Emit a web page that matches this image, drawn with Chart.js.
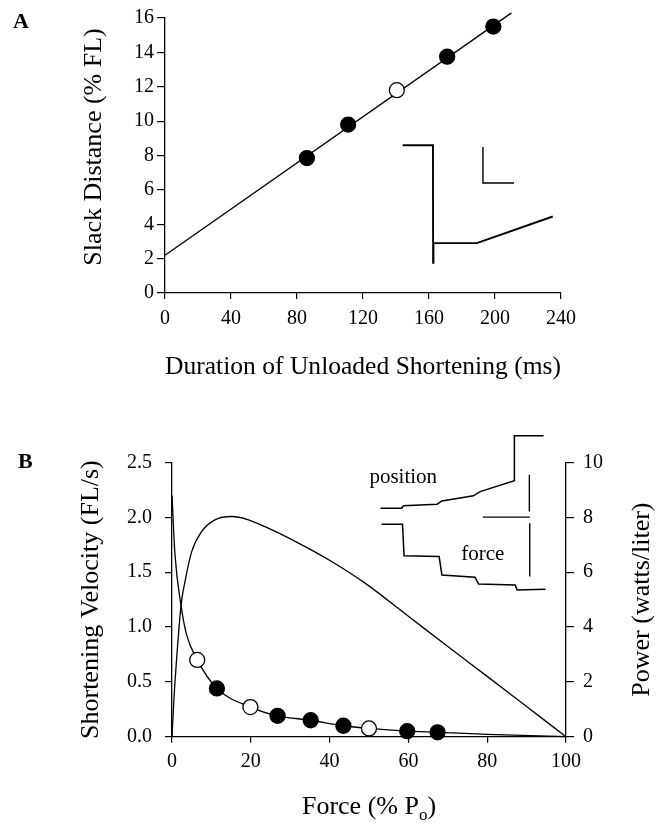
<!DOCTYPE html>
<html>
<head>
<meta charset="utf-8">
<script src="https://cdn.jsdelivr.net/npm/chart.js@4.4.1/dist/chart.umd.min.js"></script>
<style>
  body { margin: 0; background: #fff; }
  #wrap { position: relative; width: 665px; height: 829px; font-family: "Liberation Serif", serif; }
  .panel { position: absolute; left: 0; width: 665px; }
  .letter { position: absolute; font-weight: bold; font-size: 22px; line-height: 22px; color: #000; }
</style>
</head>
<body>
<div id="wrap">
  <div class="panel" style="top:0;height:400px"><canvas id="chartA"></canvas></div>
  <div class="panel" style="top:400px;height:429px"><canvas id="chartB"></canvas></div>
  <div class="letter" style="left:13px;top:10px">A</div>
  <div class="letter" style="left:18px;top:450px">B</div>
</div>
<script>
// ---- Panel A: slack distance vs duration of unloaded shortening ----
var fitDuration = [0, 210];
var fitSlack = [2.2, 16.3];
var filledDuration = [86, 111, 171, 199];
var filledSlack = [7.85, 9.8, 13.75, 15.5];
var openDuration = [140.5];
var openSlack = [11.8];
// inset record (drawn in the panel's own units)
var traceADuration = [144, 162.4, 162.5, 162.7, 189, 235];
var traceASlack = [8.6, 8.6, 1.75, 2.9, 2.9, 4.45];
var barADuration = [192.7, 192.7, 211.5];
var barASlack = [8.5, 6.4, 6.4];

// ---- Panel B: force-velocity and power ----
var curveForce = [0, 0.76, 2.28, 3.7, 6.4, 11.4, 19.9, 26.8, 35.2, 43.5, 50, 59.7, 67.4, 80, 100];
var curveVelocity = [2.2, 1.66, 1.2, 0.93, 0.7, 0.44, 0.27, 0.19, 0.15, 0.1, 0.075, 0.05, 0.04, 0.022, 0];
var powerForce = [0, 0.5, 1.1, 2.3, 3.3, 5, 7.5, 10.9, 15.2, 19.4, 23.6, 32.1, 40.5, 49, 60, 70, 80, 90, 100];
var powerWatts = [0, 1.4, 2.7, 4.8, 5.66, 6.75, 7.48, 7.91, 8.03, 7.91, 7.66, 7.06, 6.39, 5.6, 4.39, 3.29, 2.2, 1.1, 0];
var filledForce = [11.4, 26.8, 35.2, 43.5, 59.7, 67.4];
var filledVelocity = [0.44, 0.19, 0.15, 0.1, 0.05, 0.04];
var openForce = [6.4, 19.9, 50];
var openVelocity = [0.7, 0.27, 0.075];
// inset records
var posForce = [52.9, 58.3, 58.7, 67.3, 68.5, 76.5, 78.2, 86.9, 86.9, 94.3];
var posLevel = [2.084, 2.084, 2.105, 2.12, 2.15, 2.196, 2.235, 2.333, 2.744, 2.744];
var forceTraceX = [53.2, 58.5, 58.9, 67.8, 68.5, 76.9, 77.8, 87.1, 87.6, 94.8];
var forceTraceY = [1.938, 1.938, 1.649, 1.642, 1.475, 1.454, 1.393, 1.384, 1.338, 1.345];
var barB1X = [90.7, 90.7], barB1Y = [2.388, 2.053];
var barB2X = [78.9, 90.8], barB2Y = [2.002, 2.002];
var barB3X = [90.8, 90.8], barB3Y = [1.947, 1.46];
var insetLabels = ['position', 'force'];
var insetLabelX = [58.7, 78.9];
var insetLabelY = [2.367, 1.664];

function pts(xs, ys) {
  return xs.map(function(x, i) { return { x: x, y: ys[i] }; });
}

var serif = '"Liberation Serif", "Times New Roman", serif';
Chart.defaults.font.family = serif;
Chart.defaults.color = '#000';

function lineSet(data, width, extra) {
  var d = {
    data: data, showLine: true, borderColor: '#000', borderWidth: width,
    pointRadius: 0, fill: false, clip: false, order: 1
  };
  for (var k in extra) d[k] = extra[k];
  return d;
}
function markerSet(data, fillColor) {
  return {
    data: data, showLine: false, pointRadius: 7.5, pointHoverRadius: 7.5,
    pointBackgroundColor: fillColor, pointBorderColor: '#000', pointBorderWidth: 1.3,
    clip: false, order: 0
  };
}
function axisStyle(tickLen) {
  return {
    grid: { drawOnChartArea: false, drawTicks: true, tickLength: tickLen, color: '#000', lineWidth: 1.2 },
    border: { display: true, color: '#000', width: 1.3 }
  };
}
function upText(ctx, text, x, y) {
  ctx.save();
  ctx.fillStyle = '#000';
  ctx.font = '26px ' + serif;
  ctx.textAlign = 'center';
  ctx.textBaseline = 'middle';
  ctx.translate(x, y);
  ctx.rotate(-Math.PI / 2);
  ctx.fillText(text, 0, 0);
  ctx.restore();
}

// ---------- chart A ----------
var titleA = {
  id: 'titleA',
  afterDraw: function(chart) { upText(chart.ctx, 'Slack Distance (% FL)', 94, 147); }
};

var xA = axisStyle(6);
xA.type = 'linear'; xA.min = 0; xA.max = 240;
xA.ticks = { stepSize: 40, padding: 8, font: { size: 20 }, color: '#000' };
xA.title = { display: true, text: 'Duration of Unloaded Shortening (ms)', font: { size: 26 }, color: '#000', padding: { top: 0, bottom: 17 } };
xA.afterFit = function(s) { s.height = 107; };

var yA = axisStyle(8);
yA.min = 0; yA.max = 16;
yA.ticks = { stepSize: 2, padding: 3, font: { size: 20 }, color: '#000' };
yA.afterFit = function(s) { s.width = 165; };

new Chart(document.getElementById('chartA'), {
  type: 'scatter',
  data: {
    datasets: [
      markerSet(pts(filledDuration, filledSlack), '#000'),
      markerSet(pts(openDuration, openSlack), '#fff'),
      lineSet(pts(fitDuration, fitSlack), 1.3),
      lineSet(pts(traceADuration, traceASlack), 1.9),
      lineSet(pts(barADuration, barASlack), 1.4)
    ]
  },
  options: {
    responsive: true, maintainAspectRatio: false, animation: false,
    layout: { padding: { top: 18, right: 104, left: 0, bottom: 0 }, autoPadding: false },
    plugins: { legend: { display: false }, tooltip: { enabled: false } },
    scales: { x: xA, y: yA }
  },
  plugins: [titleA]
});

// ---------- chart B ----------
var extraText = {
  id: 'extraText',
  afterDraw: function(chart) {
    var ctx = chart.ctx, a = chart.chartArea;
    var xs = chart.scales.x, ys = chart.scales.y;
    // right axis title, reading upward like the left one
    upText(ctx, 'Power (watts/liter)', 642, (a.top + a.bottom) / 2);
    ctx.save();
    ctx.fillStyle = '#000';
    // x title with subscript
    var head = 'Force (% P', sub = 'o', tail = ')';
    ctx.textAlign = 'left';
    ctx.textBaseline = 'alphabetic';
    ctx.font = '26px ' + serif;
    var w1 = ctx.measureText(head).width, w3 = ctx.measureText(tail).width;
    ctx.font = '17px ' + serif;
    var w2 = ctx.measureText(sub).width;
    var x0 = (a.left + a.right) / 2 - (w1 + w2 + w3) / 2, base = 414;
    ctx.font = '26px ' + serif;
    ctx.fillText(head, x0, base);
    ctx.fillText(tail, x0 + w1 + w2, base);
    ctx.font = '17px ' + serif;
    ctx.fillText(sub, x0 + w1, base + 6);
    // inset labels
    ctx.font = '21px ' + serif;
    ctx.textAlign = 'center';
    ctx.textBaseline = 'middle';
    insetLabels.forEach(function(t, i) {
      ctx.fillText(t, xs.getPixelForValue(insetLabelX[i]), ys.getPixelForValue(insetLabelY[i]));
    });
    ctx.restore();
  }
};

var xB = axisStyle(6);
xB.type = 'linear'; xB.min = 0; xB.max = 100;
xB.ticks = { stepSize: 20, padding: 7, font: { size: 20 }, color: '#000' };
xB.afterFit = function(s) { s.height = 92.3; };

var yB = axisStyle(7);
yB.min = 0; yB.max = 2.5;
yB.ticks = { stepSize: 0.5, padding: 13, font: { size: 20 }, color: '#000',
  callback: function(v) { return v.toFixed(1); } };
yB.title = { display: true, text: 'Shortening Velocity (FL/s)', font: { size: 26 }, color: '#000', padding: { top: 76, bottom: 0 } };
yB.afterFit = function(s) { s.width = 172; };

var y2B = axisStyle(8);
y2B.position = 'right'; y2B.min = 0; y2B.max = 10;
y2B.ticks = { stepSize: 2, padding: 9, font: { size: 20 }, color: '#000' };
y2B.afterFit = function(s) { s.width = 99; };

new Chart(document.getElementById('chartB'), {
  type: 'scatter',
  data: {
    datasets: [
      markerSet(pts(filledForce, filledVelocity), '#000'),
      markerSet(pts(openForce, openVelocity), '#fff'),
      lineSet(pts(curveForce, curveVelocity), 1.3, { cubicInterpolationMode: 'monotone' }),
      lineSet(pts(powerForce, powerWatts), 1.3, { cubicInterpolationMode: 'monotone', yAxisID: 'y2' }),
      lineSet(pts(posForce, posLevel), 1.5),
      lineSet(pts(forceTraceX, forceTraceY), 1.5),
      lineSet(pts(barB1X, barB1Y), 1.4),
      lineSet(pts(barB2X, barB2Y), 1.4),
      lineSet(pts(barB3X, barB3Y), 1.4)
    ]
  },
  options: {
    responsive: true, maintainAspectRatio: false, animation: false,
    layout: { padding: { top: 62.5, right: 0, left: 0, bottom: 0 }, autoPadding: false },
    plugins: { legend: { display: false }, tooltip: { enabled: false } },
    scales: { x: xB, y: yB, y2: y2B }
  },
  plugins: [extraText]
});
</script>
</body>
</html>
